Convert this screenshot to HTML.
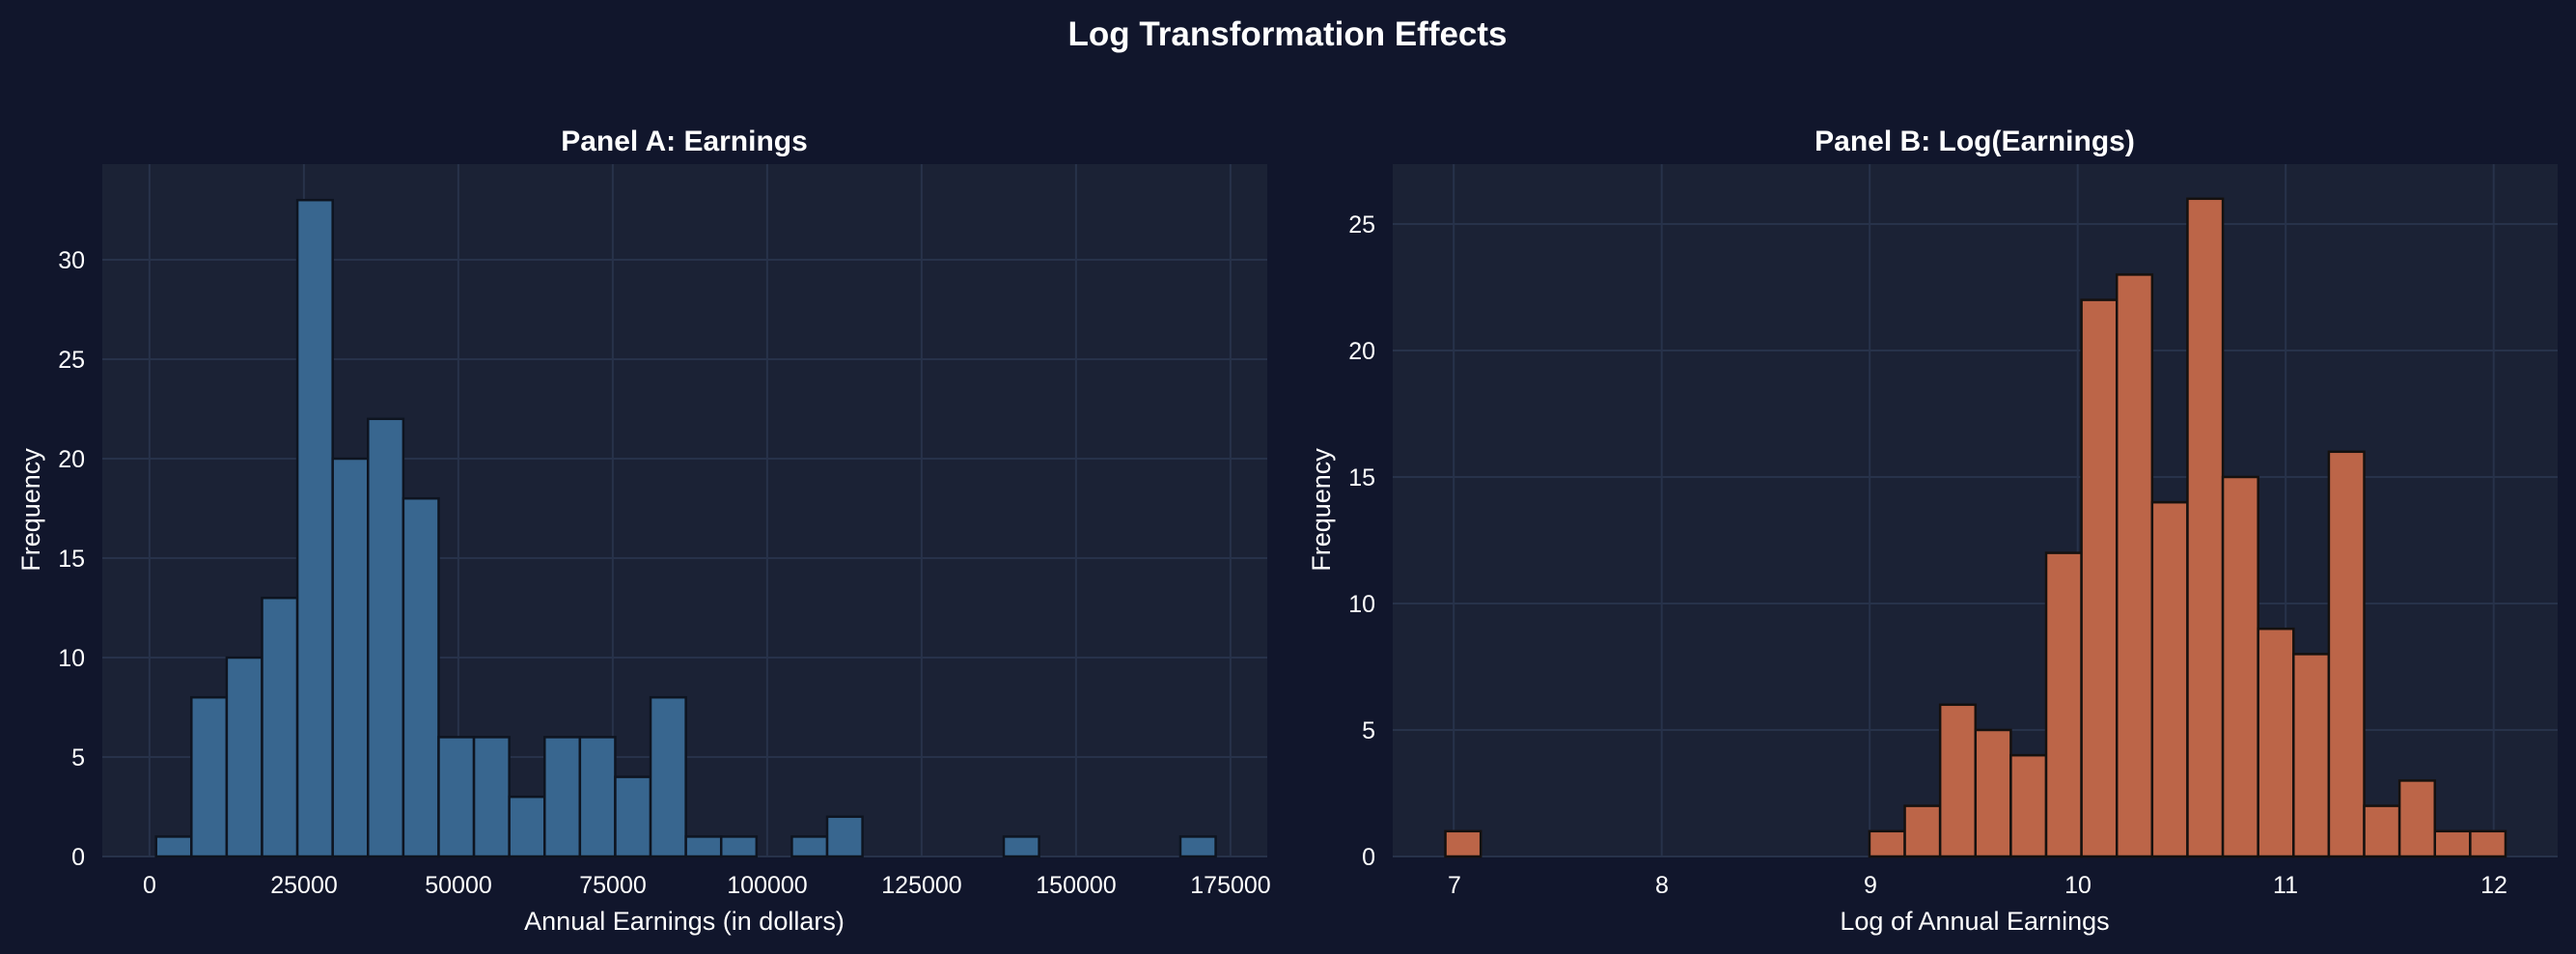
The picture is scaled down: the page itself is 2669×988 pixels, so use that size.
<!DOCTYPE html>
<html><head><meta charset="utf-8"><style>
html,body{margin:0;padding:0;background:#11162c;}
svg{display:block;font-family:"Liberation Sans",Arial,sans-serif;}
</style></head><body>
<svg id="s" width="2669" height="988" viewBox="0 0 2669 988" xmlns="http://www.w3.org/2000/svg">
<rect width="2669" height="988" fill="#11162c"/>
<text x="1334" y="47" font-size="35" font-weight="bold" fill="#ffffff" text-anchor="middle">Log Transformation Effects</text>
<!-- Panel A -->
<rect x="106" y="170" width="1207" height="717" fill="#1b2235"/>
<g id="gA"></g>
<text x="709" y="156" font-size="30" font-weight="bold" fill="#ffffff" text-anchor="middle">Panel A: Earnings</text>
<g font-size="25" fill="#ffffff" text-anchor="middle">
<text x="155" y="925">0</text><text x="315" y="925">25000</text><text x="475" y="925">50000</text><text x="635" y="925">75000</text><text x="795" y="925">100000</text><text x="955" y="925">125000</text><text x="1115" y="925">150000</text><text x="1275" y="925">175000</text>
</g>
<g font-size="25" fill="#ffffff" text-anchor="end">
<text x="88" y="896">0</text><text x="88" y="793">5</text><text x="88" y="690">10</text><text x="88" y="587">15</text><text x="88" y="484">20</text><text x="88" y="381">25</text><text x="88" y="278">30</text>
</g>
<text x="709" y="963" font-size="27" fill="#ffffff" text-anchor="middle">Annual Earnings (in dollars)</text>
<text transform="translate(41,528) rotate(-90)" font-size="27" fill="#ffffff" text-anchor="middle">Frequency</text>
<!-- Panel B -->
<rect x="1443" y="170" width="1207" height="717" fill="#1b2235"/>
<g id="gB"></g>
<text x="2046" y="156" font-size="30" font-weight="bold" fill="#ffffff" text-anchor="middle">Panel B: Log(Earnings)</text>
<g font-size="25" fill="#ffffff" text-anchor="middle">
<text x="1507" y="925">7</text><text x="1722" y="925">8</text><text x="1938" y="925">9</text><text x="2153" y="925">10</text><text x="2368" y="925">11</text><text x="2584" y="925">12</text>
</g>
<g font-size="25" fill="#ffffff" text-anchor="end">
<text x="1425" y="896">0</text><text x="1425" y="765">5</text><text x="1425" y="634">10</text><text x="1425" y="503">15</text><text x="1425" y="372">20</text><text x="1425" y="241">25</text>
</g>
<text x="2046" y="963" font-size="27" fill="#ffffff" text-anchor="middle">Log of Annual Earnings</text>
<text transform="translate(1378,528) rotate(-90)" font-size="27" fill="#ffffff" text-anchor="middle">Frequency</text>
</svg>
<script>
(function(){
var NS="http://www.w3.org/2000/svg";
function el(p,t,a){var e=document.createElementNS(NS,t);for(var k in a)e.setAttribute(k,a[k]);p.appendChild(e);return e;}
// Panel A
var gA=document.getElementById("gA");
var xA=function(v){return 154.9+v/25000*160;}, yA=function(c){return 887-c*20.6;};
for(var v=0;v<=175000;v+=25000)el(gA,"line",{x1:xA(v),x2:xA(v),y1:170,y2:887,stroke:"#27324a","stroke-width":2});
for(var c=0;c<=30;c+=5)el(gA,"line",{x1:106,x2:1313,y1:yA(c),y2:yA(c),stroke:"#27324a","stroke-width":2});
var cA=[1,8,10,13,33,20,22,18,6,6,3,6,6,4,8,1,1,0,1,2,0,0,0,0,1,0,0,0,0,1];
var s=1064,w=5718;
cA.forEach(function(n,i){if(!n)return;var x0=xA(s+i*w),x1=xA(s+(i+1)*w);
el(gA,"rect",{x:x0,y:yA(n),width:x1-x0,height:887-yA(n),fill:"#38668f",stroke:"#0e1420","stroke-width":2.5});});
// Panel B
var gB=document.getElementById("gB");
var xB=function(v){return 2152.7+(v-10)*215.5;}, yB=function(c){return 887-c*26.2;};
for(var v=7;v<=12;v++)el(gB,"line",{x1:xB(v),x2:xB(v),y1:170,y2:887,stroke:"#27324a","stroke-width":2});
for(var c=0;c<=25;c+=5)el(gB,"line",{x1:1443,x2:2650,y1:yB(c),y2:yB(c),stroke:"#27324a","stroke-width":2});
var cB=[1,0,0,0,0,0,0,0,0,0,0,0,1,2,6,5,4,12,22,23,14,26,15,9,8,16,2,3,1,1];
var sb=6.96,wb=0.1699;
cB.forEach(function(n,i){if(!n)return;var x0=xB(sb+i*wb),x1=xB(sb+(i+1)*wb);
el(gB,"rect",{x:x0,y:yB(n),width:x1-x0,height:887-yB(n),fill:"#bc6548",stroke:"#15110f","stroke-width":2.5});});
})();
</script>
</body></html>
